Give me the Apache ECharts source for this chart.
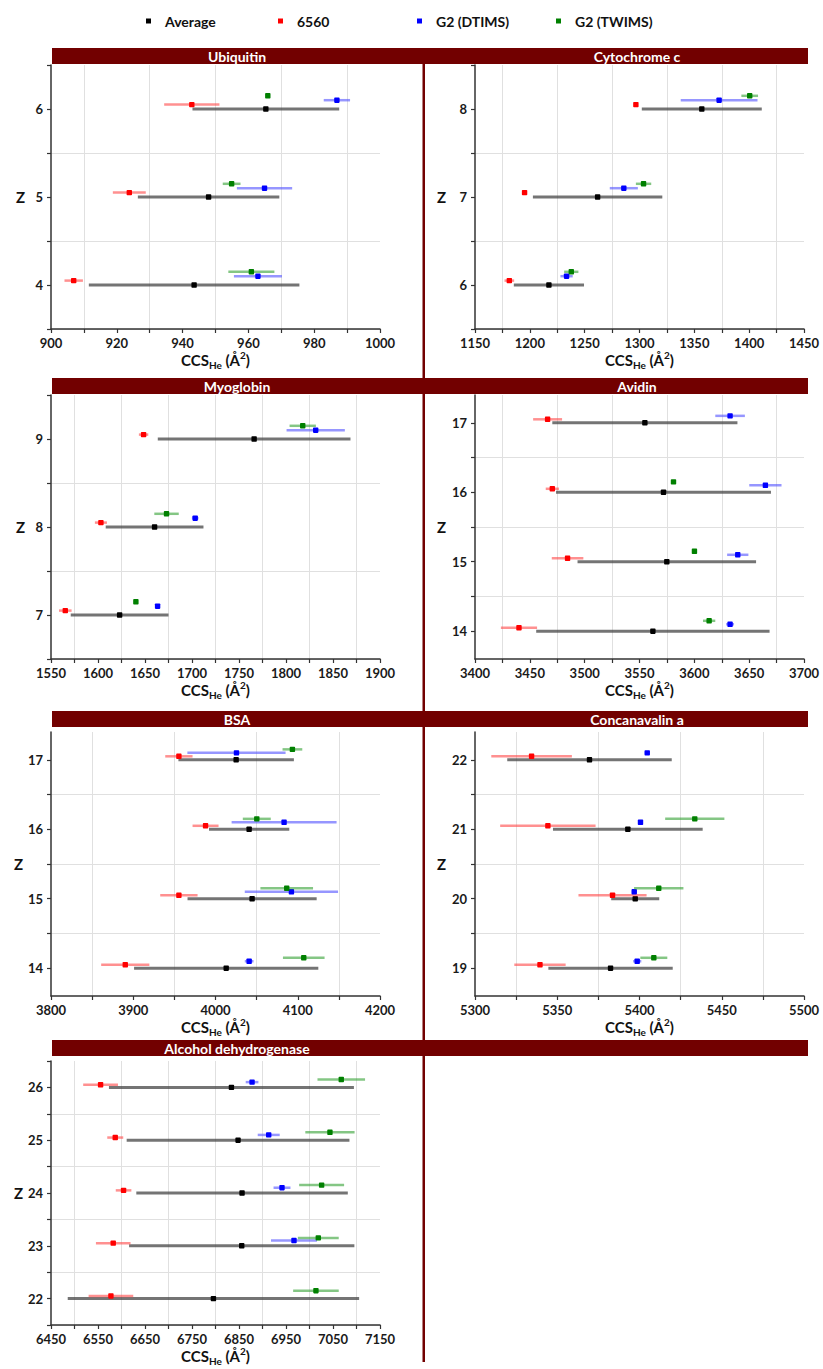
<!DOCTYPE html>
<html>
<head>
<meta charset="utf-8">
<script src="https://cdn.jsdelivr.net/npm/echarts@6/dist/echarts.min.js"></script>
<style>
  html, body { margin: 0; padding: 0; background: #fff; }
  #chart { width: 823px; height: 1369px; }
</style>
</head>
<body>
<div id="chart"></div>
<script>
// each row: [mean CCS, error half-width], ordered like the Z list; null = no point
const ubiquitinZ = [4, 5, 6];
const ubiquitinAvg = [[943.5, 32.0], [947.9, 21.5], [965.3, 22.3]];
const ubiquitin6560 = [[906.9, 2.8], [923.8, 5.0], [942.8, 8.4]];
const ubiquitinDT = [[962.9, 7.3], [964.9, 8.4], [986.9, 4.0]];
const ubiquitinTW = [[960.9, 7.0], [954.9, 2.7], [965.9, 0.5]];

const cytochromeZ = [6, 7, 8];
const cytochromeAvg = [[1217.4, 32.0], [1261.8, 59.0], [1356.8, 54.7]];
const cytochrome6560 = [[1181.3, 4.4], [1195.2, 1.0], [1296.7, 1.0]];
const cytochromeDT = [[1233.5, 5.6], [1285.7, 12.8], [1372.6, 35.0]];
const cytochromeTW = [[1237.8, 6.5], [1303.7, 7.0], [1400.5, 7.6]];

const myoglobinZ = [7, 8, 9];
const myoglobinAvg = [[1623.0, 52.0], [1660.2, 52.0], [1766.1, 102.5]];
const myoglobin6560 = [[1565.2, 6.7], [1603.1, 6.4], [1648.5, 5.0]];
const myoglobinDT = [[1663.4, 2.5], [1703.4, 3.5], [1831.6, 31.0]];
const myoglobinTW = [[1640.3, 1.0], [1672.9, 13.0], [1817.8, 14.0]];

const avidinZ = [14, 15, 16, 17];
const avidinAvg = [[3562.2, 106.4], [3574.9, 81.4], [3571.9, 98.0], [3554.9, 84.4]];
const avidin6560 = [[3440.1, 16.5], [3484.4, 14.4], [3470.5, 6.0], [3466.2, 13.2]];
const avidinDT = [[3632.6, 3.6], [3639.6, 9.7], [3664.8, 14.7], [3632.6, 13.5]];
const avidinTW = [[3613.5, 5.6], [3600.1, 2.0], [3581.0, 2.0], null];

const bsaZ = [14, 15, 16, 17];
const bsaAvg = [[4013.0, 112.0], [4044.5, 78.5], [4040.9, 48.8], [4025.1, 70.2]];
const bsa6560 = [[3890.3, 29.3], [3955.5, 22.7], [3987.9, 15.8], [3955.5, 16.6]];
const bsaDT = [[4040.9, 5.3], [4092.3, 56.7], [4083.4, 63.8], [4025.5, 59.7]];
const bsaTW = [[4107.3, 25.3], [4086.6, 32.0], [4050.2, 17.0], [4093.5, 12.0]];

const conaZ = [19, 20, 21, 22];
const conaAvg = [[5382.4, 37.8], [5397.4, 14.6], [5392.9, 45.5], [5369.6, 50.0]];
const cona6560 = [[5339.5, 15.6], [5383.6, 20.7], [5344.3, 29.0], [5334.4, 24.5]];
const conaDT = [[5398.6, 2.5], [5396.8, 1.5], [5400.6, 1.5], [5404.7, 1.5]];
const conaTW = [[5408.7, 8.2], [5411.7, 15.0], [5433.6, 18.0], null];

const adhZ = [22, 23, 24, 25, 26];
const adhAvg = [[6795.6, 310.0], [6855.8, 239.7], [6856.5, 225.0], [6848.0, 237.0], [6833.9, 260.6]];
const adh6560 = [[6577.5, 47.5], [6582.4, 36.8], [6604.4, 16.6], [6586.7, 17.0], [6555.5, 37.0]];
const adhDT = [null, [6967.0, 48.9], [6941.5, 18.0], [6913.2, 23.4], [6877.8, 13.5]];
const adhTW = [[7013.7, 48.5], [7018.7, 43.5], [7025.8, 47.8], [7043.5, 52.4], [7067.6, 50.6]];

// x axis ranges: [min, max, labelled step]
const ubiquitinX = [900, 1000, 20];
const cytochromeX = [1150, 1450, 50];
const myoglobinX = [1550, 1900, 50];
const avidinX = [3400, 3700, 50];
const bsaX = [3800, 4200, 100];
const conaX = [5300, 5500, 50];
const adhX = [6450, 7150, 100];

const setNames = ['Average', '6560', 'G2 (DTIMS)', 'G2 (TWIMS)'];
const setStyle = [
  { mark: '#000000', bar: 'rgba(70,70,70,0.75)', dy: 0 },
  { mark: '#ff0000', bar: 'rgba(255,70,70,0.6)', dy: 0.05 },
  { mark: '#0000ff', bar: 'rgba(80,80,255,0.6)', dy: 0.10 },
  { mark: '#008000', bar: 'rgba(50,160,50,0.6)', dy: 0.15 }
];

const panels = [
  { title: 'Ubiquitin', z: ubiquitinZ, sets: [ubiquitinAvg, ubiquitin6560, ubiquitinDT, ubiquitinTW], x: ubiquitinX, pad: 0.5, col: 0, row: 0 },
  { title: 'Cytochrome c', z: cytochromeZ, sets: [cytochromeAvg, cytochrome6560, cytochromeDT, cytochromeTW], x: cytochromeX, pad: 0.5, col: 1, row: 0 },
  { title: 'Myoglobin', z: myoglobinZ, sets: [myoglobinAvg, myoglobin6560, myoglobinDT, myoglobinTW], x: myoglobinX, pad: 0.5, col: 0, row: 1 },
  { title: 'Avidin', z: avidinZ, sets: [avidinAvg, avidin6560, avidinDT, avidinTW], x: avidinX, pad: 0.4, col: 1, row: 1 },
  { title: 'BSA', z: bsaZ, sets: [bsaAvg, bsa6560, bsaDT, bsaTW], x: bsaX, pad: 0.4, col: 0, row: 2 },
  { title: 'Concanavalin a', z: conaZ, sets: [conaAvg, cona6560, conaDT, conaTW], x: conaX, pad: 0.4, col: 1, row: 2 },
  { title: 'Alcohol dehydrogenase', z: adhZ, sets: [adhAvg, adh6560, adhDT, adhTW], x: adhX, pad: 0.5, col: 0, row: 3 }
];

const FONT = 'Lato, "Open Sans", sans-serif';
const DARKRED = '#720000';
const GRIDLINE = '#e0e0e0';
const CLEAR = 'rgba(0,0,0,0)';
const colLeft = [51, 475];
const rowTop = [65, 395, 732, 1061];
const rowBar = [48, 378, 711, 1040];
const plotW = 329, plotH = 264;

const grids = [], xAxes = [], yAxes = [], series = [];

panels.forEach((p, i) => {
  grids.push({ left: colLeft[p.col], top: rowTop[p.row], width: plotW, height: plotH });
  const [xmin, xmax, step] = p.x;
  xAxes.push({
    gridIndex: i, type: 'value', min: xmin, max: xmax, interval: step / 2,
    axisLine: { show: true, onZero: false, lineStyle: { color: '#333', width: 1.5 } },
    axisTick: { show: true, length: 4, lineStyle: { color: '#333', width: 1.2 } },
    axisLabel: {
      margin: 7, color: '#1a1a1a', fontSize: 13, fontWeight: 'bold', fontFamily: FONT,
      formatter: v => (Math.abs(((v - xmin) / step) - Math.round((v - xmin) / step)) < 1e-6 ? String(v) : '')
    },
    splitLine: { show: true, showMaxLine: false, lineStyle: { color: [CLEAR, GRIDLINE], width: 1 } },
    name: 'CCS{sub|He} (Å{sup|2})', nameLocation: 'middle', nameGap: 20,
    nameTextStyle: {
      color: '#111', fontSize: 15, fontWeight: 'bold', fontFamily: FONT, lineHeight: 20,
      rich: {
        sub: { fontSize: 10, fontWeight: 'bold', fontFamily: FONT, color: '#111', lineHeight: 10, verticalAlign: 'bottom' },
        sup: { fontSize: 10, fontWeight: 'bold', fontFamily: FONT, color: '#111', lineHeight: 10, verticalAlign: 'top' }
      }
    }
  });

  const zs = p.z;
  const ymin = zs[0] - p.pad, ymax = zs[zs.length - 1] + p.pad;
  // ticks every half charge inside the range, labels on whole charges
  const yTicks = [];
  for (let v = Math.ceil(ymin * 2) / 2; v <= ymax + 1e-9; v += 0.5) yTicks.push(v);
  const firstWhole = Math.abs(yTicks[0] - Math.round(yTicks[0])) < 1e-6;
  yAxes.push({
    gridIndex: i, type: 'value', min: ymin, max: ymax,
    axisLine: { show: true, onZero: false, lineStyle: { color: '#333', width: 1.5 } },
    axisTick: { show: true, length: 4, customValues: yTicks, lineStyle: { color: '#333', width: 1.2 } },
    axisLabel: {
      margin: 8, color: '#1a1a1a', fontSize: 13, fontWeight: 'bold', fontFamily: FONT,
      customValues: zs, formatter: v => String(Math.round(v))
    },
    splitLine: { show: true, showMaxLine: false, showMinLine: true,
      lineStyle: { color: firstWhole ? [CLEAR, GRIDLINE] : [GRIDLINE, CLEAR], width: 1 } },
    name: 'Z', nameLocation: 'middle', nameRotate: 0, nameGap: p.col === 0 ? 26 : 29,
    nameTextStyle: { color: '#111', fontSize: 15, fontWeight: 'bold', fontFamily: FONT }
  });

  p.sets.forEach((rows, k) => {
    const st = setStyle[k];
    const data = [];
    rows.forEach((r, j) => { if (r) data.push([r[0], zs[j] + st.dy, r[1]]); });
    series.push({
      type: 'custom', name: setNames[k], xAxisIndex: i, yAxisIndex: i,
      itemStyle: { color: st.mark },
      encode: { x: 0, y: 1 },
      data: data,
      z: 2 + k,
      renderItem: (params, api) => {
        const y = api.value(1), m = api.value(0), e = api.value(2);
        const c = api.coord([m, y]);
        const lo = api.coord([m - e, y]);
        const hi = api.coord([m + e, y]);
        return {
          type: 'group',
          children: [
            { type: 'line', shape: { x1: lo[0], y1: lo[1], x2: hi[0], y2: hi[1] },
              style: { stroke: st.bar, lineWidth: k === 0 ? 3 : 2.5 } },
            { type: 'rect', shape: { x: c[0] - 2.7, y: c[1] - 2.7, width: 5.4, height: 5.4, r: 0.8 },
              style: { fill: st.mark } }
          ]
        };
      }
    });
  });
});

const legendLeft = [141, 273, 412, 551];
const legends = setNames.map((n, k) => ({
  data: [n], left: legendLeft[k], top: 9, icon: 'rect', itemWidth: 5, itemHeight: 5,
  selectedMode: false,
  textStyle: { color: '#111', fontSize: 14, fontWeight: 'bold', fontFamily: FONT, padding: [0, 0, 0, 9] }
}));

const graphic = [];
rowBar.forEach(y => {
  graphic.push({ type: 'rect', shape: { x: 52, y: y, width: 756, height: 16 }, style: { fill: DARKRED }, z: 10 });
});
graphic.push({ type: 'rect', shape: { x: 422.5, y: 63, width: 2.5, height: 1299 }, style: { fill: DARKRED }, z: 10 });
panels.forEach(p => {
  graphic.push({
    type: 'text', x: p.col === 0 ? 237 : 637, y: rowBar[p.row] + 8, z: 11,
    style: { text: p.title, align: 'center', verticalAlign: 'middle', fill: '#fff', font: 'bold 14px ' + FONT }
  });
});

const chart = echarts.init(document.getElementById('chart'), null, { renderer: 'svg' });
chart.setOption({
  animation: false,
  backgroundColor: '#fff',
  legend: legends,
  grid: grids,
  xAxis: xAxes,
  yAxis: yAxes,
  series: series,
  graphic: graphic
});
</script>
</body>
</html>
